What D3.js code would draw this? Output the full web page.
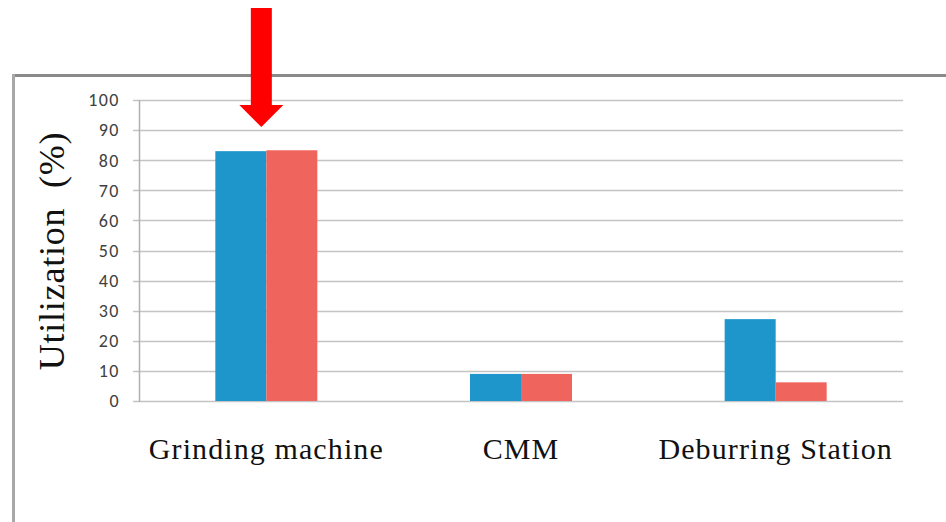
<!DOCTYPE html>
<html>
<head>
<meta charset="utf-8">
<script src="https://cdn.jsdelivr.net/npm/d3@7"></script>
<style>
  html, body { margin: 0; padding: 0; background: #fff; }
  svg { display: block; }
</style>
</head>
<body>
<svg id="chart" width="946" height="522"></svg>
<script>
// Machine utilization for two scenarios
const categories = ["Grinding machine", "CMM", "Deburring Station"];
const seriesA = [83, 9, 27.2];
const seriesB = [83.3, 9, 6.2];
const yTicks = [0, 10, 20, 30, 40, 50, 60, 70, 80, 90, 100];
const yTitle = "Utilization  (%)";
const highlightCategory = "Grinding machine";

const colors = ["#1e96cc", "#f0645e"];

const svg = d3.select("#chart");
const W = 946, H = 522;

// Frame around the chart area
svg.append("line").attr("x1", 12).attr("x2", W).attr("y1", 75.5).attr("y2", 75.5)
  .attr("stroke", "#8a8a8a").attr("stroke-width", 3);
svg.append("line").attr("x1", 13.5).attr("x2", 13.5).attr("y1", 74).attr("y2", H)
  .attr("stroke", "#a8a8a8").attr("stroke-width", 3);

const plot = { left: 139, right: 903, top: 100, bottom: 401 };

const x = d3.scaleBand().domain(categories).range([plot.left, plot.right]).paddingInner(0).paddingOuter(0);
const y = d3.scaleLinear().domain([0, 100]).range([plot.bottom, plot.top]);

// Gridlines
svg.append("g").selectAll("line").data(yTicks).join("line")
  .attr("x1", plot.left - 6).attr("x2", plot.right)
  .attr("y1", d => Math.round(y(d)) + 0.5).attr("y2", d => Math.round(y(d)) + 0.5)
  .attr("stroke", "#c4c4c4").attr("stroke-width", 1.5);

// Y axis line
svg.append("line").attr("x1", plot.left + 0.5).attr("x2", plot.left + 0.5)
  .attr("y1", plot.top).attr("y2", plot.bottom + 1)
  .attr("stroke", "#b0b0b0").attr("stroke-width", 1.5);

// Tick labels
svg.append("g").selectAll("text").data(yTicks).join("text")
  .attr("x", 120).attr("y", d => y(d))
  .attr("dy", "0.35em").attr("text-anchor", "end")
  .attr("font-family", "Carlito, 'Liberation Sans', Arial, sans-serif")
  .attr("font-size", 18).attr("letter-spacing", 1.5).attr("fill", "#404040")
  .text(d => d);

// Bars
const groupWidth = 102;
const xs = d3.scaleBand().domain([0, 1]).range([0, groupWidth]);
const rows = categories.map((c, i) => ({ c, vals: [seriesA[i], seriesB[i]] }));
const groups = svg.append("g").selectAll("g").data(rows).join("g")
  .attr("transform", d => `translate(${x(d.c) + x.bandwidth() / 2 - groupWidth / 2},0)`);
groups.selectAll("rect").data(d => d.vals.map((v, k) => ({ v, k }))).join("rect")
  .attr("x", d => xs(d.k)).attr("width", xs.bandwidth())
  .attr("y", d => y(d.v)).attr("height", d => y(0) - y(d.v))
  .attr("fill", d => colors[d.k]);

// Category labels
svg.append("g").selectAll("text").data(categories).join("text")
  .attr("x", d => x(d) + x.bandwidth() / 2).attr("y", 459)
  .attr("text-anchor", "middle")
  .attr("font-family", "'Liberation Serif', 'Times New Roman', serif")
  .attr("font-size", 30).attr("letter-spacing", 1.1).attr("fill", "#111")
  .text(d => d);

// Y axis title
svg.append("text")
  .attr("transform", `translate(64,251) rotate(-90)`)
  .attr("text-anchor", "middle")
  .style("white-space", "pre")
  .attr("font-family", "'Liberation Serif', 'Times New Roman', serif")
  .attr("font-size", 36).attr("letter-spacing", 0.8).attr("fill", "#111")
  .text(yTitle);

// Red arrow pointing at the highlighted category
const ax = x(highlightCategory) + x.bandwidth() / 2 - 5;
const arrow = d3.path();
arrow.moveTo(ax - 10.5, 8);
arrow.lineTo(ax + 10.5, 8);
arrow.lineTo(ax + 10.5, 105);
arrow.lineTo(ax + 22, 105);
arrow.lineTo(ax, 127);
arrow.lineTo(ax - 22, 105);
arrow.lineTo(ax - 10.5, 105);
arrow.closePath();
svg.append("path").attr("d", arrow.toString()).attr("fill", "#ff0000");
</script>
</body>
</html>
